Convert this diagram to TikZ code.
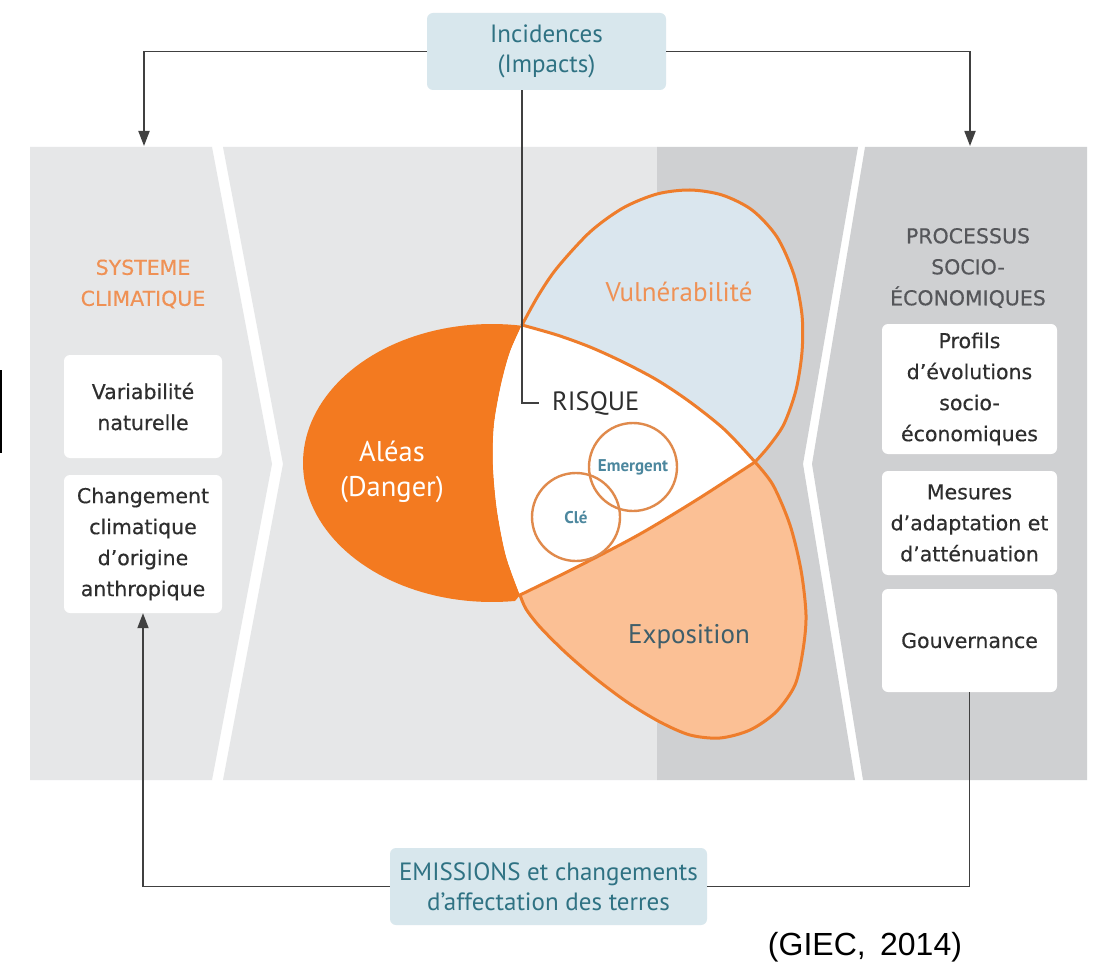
\documentclass[tikz,border=0pt]{standalone}
\usepackage{fontspec}
\setmainfont{DejaVu Sans}
\newfontfamily\boxfont[FakeBold=0.4]{DejaVu Sans}
\newfontfamily\dinc{PT Sans}
\newfontfamily\giecfont{Liberation Sans}
\usetikzlibrary{arrows.meta}
\definecolor{panellight}{HTML}{E6E7E8}
\definecolor{paneldark}{HTML}{CFD0D2}
\definecolor{boxblue}{HTML}{D8E7ED}
\definecolor{tealtxt}{HTML}{2F7283}
\definecolor{orangefill}{HTML}{F37A20}
\definecolor{orangeline}{HTML}{EE7D2C}
\definecolor{vulnblue}{HTML}{DAE6EE}
\definecolor{expopeach}{HTML}{FBC095}
\definecolor{titleorange}{HTML}{EF9155}
\definecolor{titlegray}{HTML}{55565A}
\definecolor{boxtxt}{HTML}{2E2E2E}
\definecolor{conncol}{HTML}{404040}
\definecolor{smallcirc}{HTML}{E08A4C}
\definecolor{smalltxt}{HTML}{4C879E}
\definecolor{expotxt}{HTML}{3F5E6A}
\begin{document}
\begin{tikzpicture}[x=1pt,y=-1pt,
  wbox/.style={fill=white, rounded corners=6pt, inner sep=0pt, align=center, text=boxtxt, font=\boxfont\fontsize{20.5}{31}\selectfont},
  bluebox/.style={fill=boxblue, rounded corners=6pt, inner sep=0pt, align=center, text=tealtxt, font=\dinc\fontsize{25}{30}\selectfont},
  paneltitle/.style={inner sep=0pt, align=center, font=\boxfont\fontsize{20.5}{31}\selectfont},
  vennlabel/.style={inner sep=0pt, align=center, font=\dinc\fontsize{27}{34}\selectfont},
  vennline/.style={draw=orangeline, line width=3pt, line join=round, line cap=round},
  ring/.style={circle, draw=smallcirc, line width=2.4pt, inner sep=0pt, minimum size=88pt, text=smalltxt, font=\dinc\bfseries\fontsize{17}{19}\selectfont},
  conn/.style={draw=conncol, line width=1.8pt},
  arrowtip/.style={-{Triangle[length=15pt,width=11pt]}}
]
\useasboundingbox (0,0) rectangle (1102,965);
\fill[white] (0,0) rectangle (1102,965);
% panels
\fill[panellight] (30,147) -- (212,147) -- (272,464) -- (212,780) -- (30,780) -- cycle;
\fill[panellight] (223,147) -- (657,147) -- (657,780) -- (223,780) -- (283,464) -- cycle;
\fill[paneldark] (657,147) -- (858,147) -- (803,464) -- (855,780) -- (657,780) -- cycle;
\fill[paneldark] (865,147) -- (1087,147) -- (1087,780) -- (863,780) -- (812,464) -- cycle;
% stray frame edge at the left border
\draw[line width=1.3pt, black] (-4,370.5) -- (1,370.5) -- (1,452.5) -- (-4,452.5);
% Venn: vulnerability (blue)
\fill[vulnblue] plot[smooth] coordinates {(522,325) (538,296) (557,268) (590,232) (623,208) (657,194) (690,190) (722,195) (752,210) (777,237) (794,275) (802,315) (802,352) (796,390) (784,424) (769,446) (755,462)} -- plot[smooth] coordinates {(755,462) (725,430) (690,402) (657,380) (623,362) (590,347) (557,335) (522,325)} -- cycle;
% exposure (peach)
\fill[expopeach] plot[smooth] coordinates {(755,462) (698,499) (640,534) (581,565) (520,595)} -- plot[smooth] coordinates {(520,595) (526,609) (540,627) (565,652) (595,678) (627,702) (660,722) (690,735) (720,738) (750,730) (776,712) (795,685) (803,650) (806,615) (801,570) (790,525) (773,485) (755,462)} -- cycle;
% hazard (orange)
\fill[orangefill] plot[domain=81:277, samples=90] ({492+189*cos(\x)}, {463-139*sin(\x)}) -- plot[smooth] coordinates {(520,595) (506,556) (497,510) (493,465) (494,425) (501,385) (510,352) (522,325)} -- cycle;
% risk (white)
\fill[white] plot[smooth] coordinates {(522,325) (557,335) (590,347) (623,362) (657,380) (690,402) (725,430) (755,462)} -- plot[smooth] coordinates {(755,462) (698,499) (640,534) (581,565) (520,595)} -- plot[smooth] coordinates {(520,595) (506,556) (497,510) (493,465) (494,425) (501,385) (510,352) (522,325)} -- cycle;
% outlines
\draw[vennline] plot[smooth] coordinates {(522,325) (538,296) (557,268) (590,232) (623,208) (657,194) (690,190) (722,195) (752,210) (777,237) (794,275) (802,315) (802,352) (796,390) (784,424) (769,446) (755,462)};
\draw[vennline] plot[smooth] coordinates {(755,462) (698,499) (640,534) (581,565) (520,595)};
\draw[vennline] plot[smooth] coordinates {(522,325) (557,335) (590,347) (623,362) (657,380) (690,402) (725,430) (755,462)};
\draw[vennline] plot[smooth] coordinates {(520,595) (526,609) (540,627) (565,652) (595,678) (627,702) (660,722) (690,735) (720,738) (750,730) (776,712) (795,685) (803,650) (806,615) (801,570) (790,525) (773,485) (755,462)};
% small risk circles
\node[ring] (emerg) at (633,467) {Emergent};
\node[ring] (cle) at (576,517) {Clé};
% venn labels
\node[vennlabel, text=titleorange] (vuln) at (679,292) {Vulnérabilité};
\node[vennlabel, text=white, font=\dinc\fontsize{28.5}{35}\selectfont] (aleas) at (392,472) {Aléas\\(Danger)};
\node[vennlabel, text=expotxt] (expo) at (689,637) {Exposition};
\node[vennlabel, anchor=west, inner xsep=13pt, text=boxtxt, font=\dinc\fontsize{26.5}{30}\selectfont] (risque) at (539,403) {RISQUE};
% panel titles
\node[paneltitle, text=titleorange] (systitle) at (143,284) {SYSTEME\\CLIMATIQUE};
\node[paneltitle, text=titlegray] (proctitle) at (968,268) {PROCESSUS\\SOCIO-\\ÉCONOMIQUES};
% white boxes
\node[wbox, minimum width=158pt, minimum height=103pt] (var) at (143,406.5) {Variabilité\\naturelle};
\node[wbox, minimum width=158pt, minimum height=138pt] (chg) at (143,544) {Changement\\climatique\\d’origine\\anthropique};
\node[wbox, minimum width=175pt, minimum height=130pt] (prof) at (969.5,389) {Profils\\d’évolutions\\socio-\\économiques};
\node[wbox, minimum width=175pt, minimum height=104pt] (mes) at (969.5,523) {Mesures\\d’adaptation et\\d’atténuation};
\node[wbox, minimum width=175pt, minimum height=103pt] (gouv) at (969.5,640.5) {Gouvernance};
% blue boxes
\node[bluebox, minimum width=239pt, minimum height=77pt] (inc) at (546.5,51.5) {Incidences\\(Impacts)};
\node[bluebox, minimum width=317pt, minimum height=77pt] (emis) at (548.5,886.5) {EMISSIONS et changements\\d’affectation des terres};
% source
\node[inner sep=0pt, anchor=base, font=\giecfont\fontsize{32}{36}\selectfont] (giec) at (865,955) {(GIEC,\hspace{0.45em}2014)};
% connectors
\coordinate (lpan) at (144,146);
\coordinate (rpan) at (970,146);
\coordinate (rcorner) at (522,403);
\draw[conn, arrowtip] (inc.west) -| (lpan);
\draw[conn, arrowtip] (inc.east) -| (rpan);
\draw[conn] (inc.south -| rcorner) -- (rcorner) -- (risque.west);
\draw[conn] (gouv.south) |- (emis.east);
\draw[conn, arrowtip] (emis.west) -| (chg.south);
\end{tikzpicture}
\end{document}
